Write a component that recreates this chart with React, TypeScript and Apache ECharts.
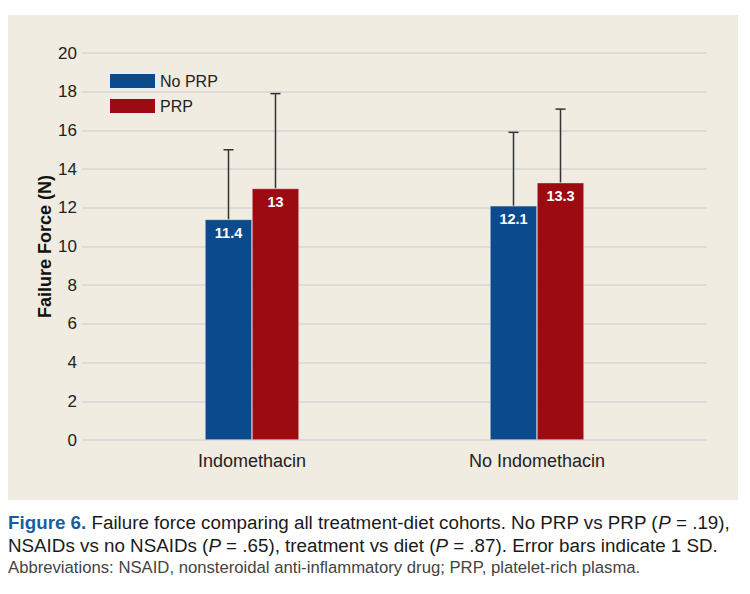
import React, { useEffect, useRef } from "react";
import * as echarts from "echarts";

const categories = ["Indomethacin", "No Indomethacin"];
const seriesNames = ["No PRP", "PRP"];
const noPrp = [11.4, 12.1];
const prp = [13.0, 13.3];
const noPrpSd = [3.6, 3.8];
const prpSd = [4.9, 3.8];
const yTicks = [0, 2, 4, 6, 8, 10, 12, 14, 16, 18, 20];

const BLUE = "#0b4b8d";
const RED = "#9c0a12";

export default function App() {
  const ref = useRef<HTMLDivElement>(null);
  useEffect(() => {
    const chart = echarts.init(ref.current!, null, { renderer: "svg" });
    const errData: number[][] = [];
    categories.forEach((_, i) => {
      errData.push([i, 0, noPrp[i], noPrp[i] + noPrpSd[i]]);
      errData.push([i, 1, prp[i], prp[i] + prpSd[i]]);
    });
    const barW = 47;
    chart.setOption({
      animation: false,
      backgroundColor: "#ffffff",
      textStyle: { fontFamily: "Liberation Sans" },
      graphic: [
        {
          type: "rect",
          z: -10,
          shape: { x: 8, y: 15, width: 730, height: 485 },
          style: { fill: "#f0ece1" },
          silent: true,
        },
        {
          type: "text",
          left: 8,
          top: 511,
          style: {
            text:
              "{b|Figure 6.} Failure force comparing all treatment-diet cohorts. No PRP vs PRP ({i|P} = .19),\nNSAIDs vs no NSAIDs ({i|P} = .65), treatment vs diet ({i|P} = .87). Error bars indicate 1 SD.",
            font: "18.8px Liberation Sans",
            fill: "#1a1a1a",
            lineHeight: 23,
            rich: {
              b: { fontWeight: "bold", fill: "#1a5d9e", fontSize: 18.8, fontFamily: "Liberation Sans", lineHeight: 23 },
              i: { fontStyle: "italic", fontSize: 18.8, fontFamily: "Liberation Sans", fill: "#1a1a1a", lineHeight: 23 },
            },
          },
        },
        {
          type: "text",
          left: 8,
          top: 559,
          style: {
            text: "Abbreviations: NSAID, nonsteroidal anti-inflammatory drug; PRP, platelet-rich plasma.",
            font: "16.7px Liberation Sans",
            fill: "#444444",
          },
        },
      ],
      legend: {
        orient: "vertical",
        left: 108,
        top: 72,
        padding: 0,
        itemWidth: 47,
        itemHeight: 16,
        itemGap: 7,
        icon: "rect",
        data: seriesNames,
        textStyle: { fontSize: 16, color: "#222", fontFamily: "Liberation Sans", padding: [0, 0, 0, -1] },
      },
      grid: [
        { left: 82, right: 43, top: 53, bottom: 594 - 440 },
        { left: 109.5, width: 570, top: 53, bottom: 594 - 440 },
      ],
      xAxis: [
        { type: "category", gridIndex: 0, data: categories, show: false },
        {
          type: "category",
          gridIndex: 1,
          data: categories,
          axisLine: { show: false },
          axisTick: { show: false },
          axisLabel: { fontSize: 18, color: "#222", margin: 12, fontFamily: "Liberation Sans" },
        },
      ],
      yAxis: [
        {
          type: "value",
          gridIndex: 0,
          min: 0,
          max: 20,
          interval: 2,
          name: "Failure Force (N)",
          nameLocation: "middle",
          nameGap: 28,
          nameMoveOverlap: false,
          nameTextStyle: { fontSize: 18, fontWeight: "bold", color: "#111", fontFamily: "Liberation Sans" },
          axisLine: { show: false },
          axisTick: { show: false },
          axisLabel: {
            fontSize: 17,
            color: "#222",
            margin: 5,
            fontFamily: "Liberation Sans",
            formatter: (v: number) => (yTicks.includes(v) ? String(v) : ""),
          },
          splitLine: { lineStyle: { color: "#d6d6d4", width: 1.5 } },
        },
        { type: "value", gridIndex: 1, min: 0, max: 20, interval: 2, show: false },
      ],
      series: [
        {
          name: seriesNames[0],
          type: "bar",
          xAxisIndex: 1,
          yAxisIndex: 1,
          data: noPrp,
          barWidth: barW,
          barGap: "0%",
          itemStyle: { color: BLUE, borderColor: "#e8eef4", borderWidth: 0.5 },
          z: 3,
          label: {
            show: true,
            position: "insideTop",
            distance: 6,
            color: "#fff",
            fontWeight: "bold",
            fontSize: 14.5,
            fontFamily: "Liberation Sans",
          },
        },
        {
          name: seriesNames[1],
          type: "bar",
          xAxisIndex: 1,
          yAxisIndex: 1,
          data: prp,
          barWidth: barW,
          barGap: "0%",
          itemStyle: { color: RED, borderColor: "#f4e8e8", borderWidth: 0.5 },
          z: 3,
          label: {
            show: true,
            position: "insideTop",
            distance: 6,
            color: "#fff",
            fontWeight: "bold",
            fontSize: 14.5,
            fontFamily: "Liberation Sans",
            formatter: (p: any) => String(p.value),
          },
        },
        {
          type: "custom",
          xAxisIndex: 1,
          yAxisIndex: 1,
          z: 2,
          data: errData,
          renderItem: (params: any, api: any) => {
            const ci = api.value(0);
            const si = api.value(1);
            const lo = api.coord([ci, api.value(2)]);
            const hi = api.coord([ci, api.value(3)]);
            const x = lo[0] + (si === 0 ? -barW / 2 : barW / 2);
            const cap = 5;
            return {
              type: "group",
              children: [
                { type: "line", shape: { x1: x, y1: lo[1], x2: x, y2: hi[1] }, style: { stroke: "#333", lineWidth: 1.5 } },
                { type: "line", shape: { x1: x - cap, y1: hi[1], x2: x + cap, y2: hi[1] }, style: { stroke: "#333", lineWidth: 1.5 } },
              ],
            };
          },
        },
      ],
    });
    return () => chart.dispose();
  }, []);
  return <div ref={ref} style={{ position: "absolute", left: 0, top: 0, width: 750, height: 594 }} />;
}
